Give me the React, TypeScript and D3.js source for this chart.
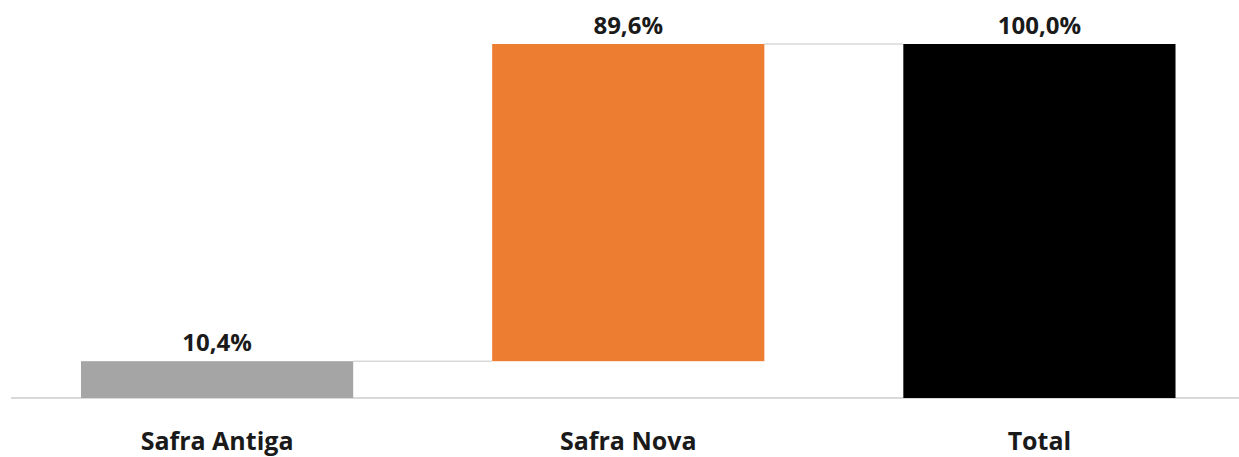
import React from "react";
import * as d3 from "d3";

// waterfall: previous crop, new crop, total
const categories = ["Safra Antiga", "Safra Nova", "Total"];
const deltas = [10.4, 89.6, 100.0];
const isTotal = [false, false, true];
const barColors = ["#a5a5a5", "#ed7d31", "#000000"];

const width = 1239;
const height = 457;

export default function App() {
  const x = d3
    .scaleBand<string>()
    .domain(categories)
    .range([11.5, 1245])
    .paddingInner(0.338)
    .paddingOuter(0.169);

  const y = d3.scaleLinear().domain([0, 100]).range([398, 44]);

  // cumulative start/end for each bar
  let running = 0;
  const bars = categories.map((c, i) => {
    const start = isTotal[i] ? 0 : running;
    const end = isTotal[i] ? deltas[i] : running + deltas[i];
    running = end;
    return { cat: c, start, end, value: deltas[i], color: barColors[i] };
  });

  const fmt = (v: number) => v.toFixed(1).replace(".", ",") + "%";
  const font = "'Open Sans', 'Noto Sans', sans-serif";

  return (
    <svg
      width={width}
      height={height}
      style={{ position: "absolute", left: 0, top: 0, background: "#fff" }}
    >
      <line x1={11} x2={1239} y1={y(0)} y2={y(0)} stroke="#d9d9d9" strokeWidth={2} />

      {/* connectors */}
      {bars.slice(0, -1).map((b, i) => {
        const next = bars[i + 1];
        return (
          <line
            key={"c" + i}
            x1={x(b.cat)! + x.bandwidth()}
            x2={x(next.cat)!}
            y1={y(b.end)}
            y2={y(b.end)}
            stroke="#d9d9d9"
            strokeWidth={1.5}
          />
        );
      })}

      {bars.map((b) => (
        <rect
          key={b.cat}
          x={x(b.cat)}
          width={x.bandwidth()}
          y={y(Math.max(b.start, b.end))}
          height={Math.abs(y(b.start) - y(b.end))}
          fill={b.color}
        />
      ))}

      <g fontFamily={font} fontWeight="bold" textAnchor="middle" fill="#1a1a1a">
        {bars.map((b) => (
          <text
            key={"v" + b.cat}
            x={x(b.cat)! + x.bandwidth() / 2}
            y={y(Math.max(b.start, b.end)) - 10}
            fontSize={24}
          >
            {fmt(b.value)}
          </text>
        ))}
        {bars.map((b) => (
          <text
            key={"l" + b.cat}
            x={x(b.cat)! + x.bandwidth() / 2}
            y={450}
            fontSize={25}
          >
            {b.cat}
          </text>
        ))}
      </g>
    </svg>
  );
}
